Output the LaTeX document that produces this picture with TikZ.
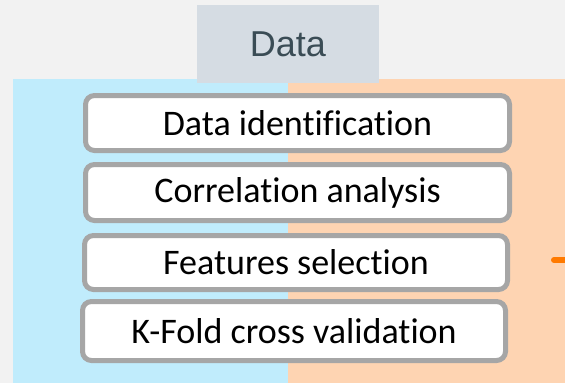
\documentclass[tikz,border=0pt]{standalone}
\usepackage{fontspec}
\newfontfamily\calibrifont[Ligatures=NoCommon]{Carlito}
\newfontfamily\arialfont{Liberation Sans}
\definecolor{bggray}{HTML}{F2F2F2}
\definecolor{paneblue}{HTML}{C0ECFC}
\definecolor{paneorange}{HTML}{FED4B2}
\definecolor{headfill}{HTML}{D5DCE3}
\definecolor{headtext}{HTML}{3A4C55}
\definecolor{boxborder}{HTML}{A6A6A6}
\definecolor{linkorange}{HTML}{FF7A00}
\tikzset{
  stepbox/.style={draw=boxborder, fill=white, line width=5pt, rounded corners=9pt,
    inner sep=0pt, font=\calibrifont\fontsize{36}{40}\selectfont, text=black},
  headbox/.style={fill=headfill, inner sep=0pt, minimum width=182pt, minimum height=78pt,
    font=\arialfont\fontsize{36}{40}\selectfont, text=headtext},
  link/.style={draw=linkorange, line width=6pt, line cap=round}
}
\begin{document}
\begin{tikzpicture}[x=1pt,y=-1pt]
\useasboundingbox (0,0) rectangle (565,383);
\fill[bggray] (0,0) rectangle (565,383);
\fill[paneblue] (13,79) rectangle (288,383);
\fill[paneorange] (288,79) rectangle (565,383);
\node[headbox] (head) at (288,44) {Data};
\node[stepbox, minimum width=424pt, minimum height=55pt] (ident) at (297.5,123) {Data identification};
\node[stepbox, minimum width=424pt, minimum height=56pt] (corr) at (297.5,192.5) {Correlation analysis};
\node[stepbox, minimum width=423pt, minimum height=54pt] (feat) at (296,262.5) {Features selection};
\node[stepbox, minimum width=423pt, minimum height=59pt] (kfold) at (294,331) {K-Fold cross validation};
\coordinate (linkstart) at (554,260);
\coordinate (linkend) at (590,260);
\draw[link] (linkstart) -- (linkend);
\end{tikzpicture}
\end{document}
